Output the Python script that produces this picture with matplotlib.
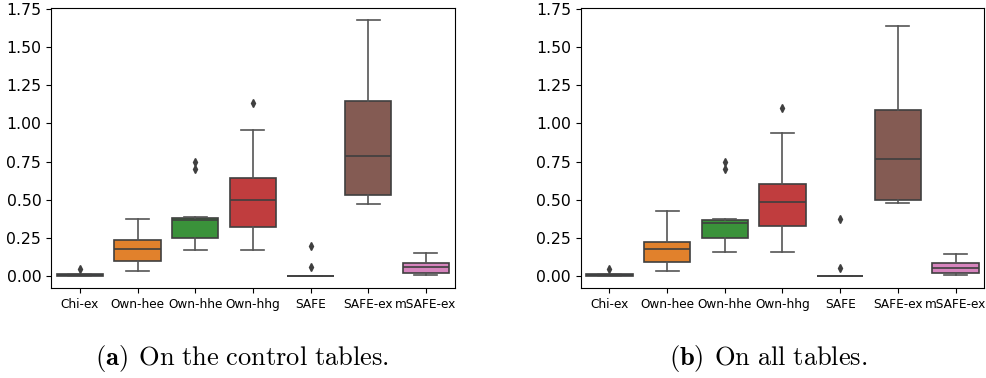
import matplotlib
matplotlib.use("Agg")
import matplotlib.pyplot as plt

methods = ['Chi-ex', 'Own-hee', 'Own-hhe', 'Own-hhg', 'SAFE', 'SAFE-ex', 'mSAFE-ex']
colors = ['#3274a1', '#e1812c', '#3a923a', '#c03d3e', '#9372b2', '#845b53', '#d684bd']

# (a) control tables: whislo, q1, median, q3, whishi, fliers
ctrl_whislo = [0.0, 0.035, 0.170, 0.170, 0.0, 0.469, 0.003]
ctrl_q1 = [0.0, 0.096, 0.249, 0.323, 0.0, 0.530, 0.016]
ctrl_med = [0.004, 0.175, 0.369, 0.500, 0.0, 0.785, 0.055]
ctrl_q3 = [0.012, 0.234, 0.382, 0.641, 0.0, 1.150, 0.081]
ctrl_whishi = [0.012, 0.376, 0.386, 0.958, 0.0, 1.680, 0.153]
ctrl_fliers = [[0.045], [], [0.70, 0.744], [1.135], [0.059, 0.194], [], []]

# (b) all tables
all_whislo = [0.0, 0.033, 0.155, 0.155, 0.0, 0.476, 0.003]
all_q1 = [0.0, 0.088, 0.249, 0.330, 0.0, 0.500, 0.016]
all_med = [0.004, 0.173, 0.349, 0.487, 0.0, 0.766, 0.052]
all_q3 = [0.012, 0.225, 0.369, 0.605, 0.0, 1.089, 0.081]
all_whishi = [0.012, 0.423, 0.371, 0.936, 0.0, 1.636, 0.142]
all_fliers = [[0.046], [], [0.70, 0.744], [1.104], [0.052, 0.371], [], []]

captions = [r'$\mathbf{(a)}\;\,\mathrm{On\ the\ control\ tables.}$',
            r'$\mathbf{(b)}\;\,\mathrm{On\ all\ tables.}$']

plt.rcParams['mathtext.fontset'] = 'cm'

fig = plt.figure(figsize=(9.87, 3.78), dpi=100)
ax1 = fig.add_axes([0.0517, 0.238, 0.409, 0.740])
ax2 = fig.add_axes([0.5883, 0.238, 0.409, 0.740])

line_col = '#3f3f3f'


def draw(ax, wlo, q1, med, q3, whi, fl):
    stats = []
    for i in range(len(methods)):
        stats.append(dict(label=methods[i], whislo=wlo[i], q1=q1[i], med=med[i],
                          q3=q3[i], whishi=whi[i], fliers=fl[i]))
    bp = ax.bxp(stats, positions=range(len(methods)), widths=0.8, patch_artist=True,
                boxprops=dict(edgecolor=line_col, linewidth=1.2),
                whiskerprops=dict(color='#555555', linewidth=1.2),
                capprops=dict(color='#555555', linewidth=1.2),
                medianprops=dict(color=line_col, linewidth=1.2),
                flierprops=dict(marker='d', markerfacecolor=line_col, markeredgecolor=line_col,
                                markersize=4))
    for patch, c in zip(bp['boxes'], colors):
        patch.set_facecolor(c)
    ax.set_xlim(-0.5, 6.5)
    ax.set_ylim(-0.08, 1.755)
    ax.set_yticks([0, 0.25, 0.5, 0.75, 1.0, 1.25, 1.5, 1.75])
    ax.set_yticklabels(['0.00', '0.25', '0.50', '0.75', '1.00', '1.25', '1.50', '1.75'])
    ax.tick_params(axis='y', labelsize=11.3)
    ax.tick_params(axis='x', labelsize=8.7)


draw(ax1, ctrl_whislo, ctrl_q1, ctrl_med, ctrl_q3, ctrl_whishi, ctrl_fliers)
draw(ax2, all_whislo, all_q1, all_med, all_q3, all_whishi, all_fliers)

fig.text(0.2455, 0.052, captions[0], ha='center', va='center', fontsize=19)
fig.text(0.7785, 0.052, captions[1], ha='center', va='center', fontsize=19)

fig.savefig('out.png', dpi=100)
